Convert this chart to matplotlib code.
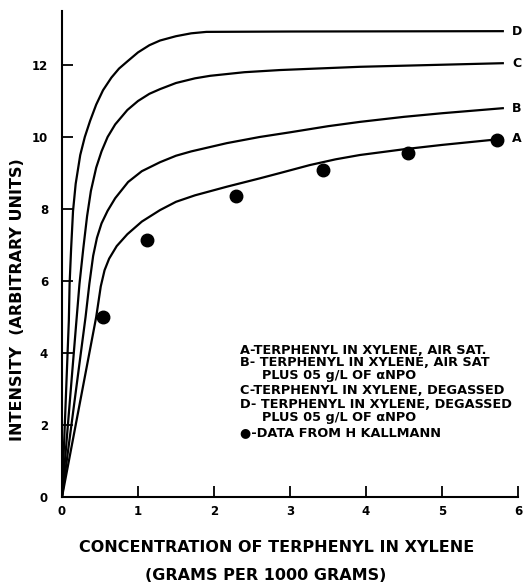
import numpy as np
import matplotlib.pyplot as plt

plt.rcParams['font.family'] = ['DejaVu Sans']
plt.rcParams['font.weight'] = 'bold'

# curves (x = g per 1000 g, y = intensity)
xa = [0, 0.45, 0.51, 0.56, 0.62, 0.72, 0.86, 1.05, 1.29, 1.5, 1.75, 2.17, 2.6, 2.87,
      3.26, 3.6, 3.92, 4.5, 5.0, 5.8]
ya = [0, 5.0, 5.85, 6.3, 6.62, 6.97, 7.3, 7.65, 7.97, 8.2, 8.38, 8.62, 8.85, 9.0,
      9.22, 9.38, 9.5, 9.66, 9.78, 9.95]

xb = [0, 0.31, 0.36, 0.41, 0.46, 0.52, 0.6, 0.7, 0.87, 1.05, 1.29, 1.5, 1.7, 2.17,
      2.6, 3.0, 3.5, 3.92, 4.5, 5.0, 5.8]
yb = [0, 5.0, 5.92, 6.7, 7.2, 7.6, 7.95, 8.3, 8.75, 9.05, 9.3, 9.48, 9.6, 9.83,
      10.0, 10.13, 10.3, 10.42, 10.56, 10.66, 10.8]

xc = [0, 0.19, 0.23, 0.28, 0.33, 0.38, 0.45, 0.52, 0.6, 0.7, 0.86, 1.0, 1.15, 1.29,
      1.5, 1.75, 1.95, 2.4, 2.87, 3.92, 5.8]
yc = [0, 4.9, 5.92, 6.9, 7.8, 8.5, 9.15, 9.6, 10.0, 10.35, 10.75, 11.0, 11.2, 11.33,
      11.5, 11.63, 11.7, 11.8, 11.86, 11.95, 12.05]

xd = [0, 0.09, 0.1, 0.12, 0.145, 0.18, 0.24, 0.3, 0.37, 0.45, 0.54, 0.65, 0.75, 0.86,
      1.0, 1.15, 1.29, 1.5, 1.7, 1.9, 3.0, 5.8]
yd = [0, 4.9, 5.92, 6.9, 7.94, 8.7, 9.5, 10.0, 10.45, 10.9, 11.3, 11.65, 11.9, 12.1,
      12.35, 12.55, 12.68, 12.8, 12.88, 12.92, 12.93, 12.94]

# Kallmann data points
xk = [0.54, 1.12, 2.29, 3.43, 4.55, 5.72]
yk = [5.0, 7.14, 8.36, 9.08, 9.55, 9.92]

curves = [('A', xa, ya), ('B', xb, yb), ('C', xc, yc), ('D', xd, yd)]

legend_lines = [
    ('A-TERPHENYL IN XYLENE, AIR SAT.', 0),
    ('B- TERPHENYL IN XYLENE, AIR SAT', 0),
    ('PLUS 05 g/L OF \u03b1NPO', 1),
    ('C-TERPHENYL IN XYLENE, DEGASSED', 0),
    ('D- TERPHENYL IN XYLENE, DEGASSED', 0),
    ('PLUS 05 g/L OF \u03b1NPO', 1),
    ('\u25cf-DATA FROM H KALLMANN', 0),
]
legend_y = [350, 363, 376, 391, 404, 418, 433]

fig = plt.figure(figsize=(5.31, 5.83), dpi=100)
ax = fig.add_axes([62 / 531, 1 - 497 / 583, 456 / 531, 486 / 583])

for name, x, y in curves:
    ax.plot(x, y, color='black', lw=1.6, solid_joinstyle='round')
    ax.text(x[-1] + 0.12, y[-1], name, ha='left', va='center', fontsize=9)

ax.plot(xk, yk, 'o', color='black', markersize=9)

ax.set_xlim(0, 6)
ax.set_ylim(0, 13.5)
ax.set_xticks(range(0, 7))
ax.set_yticks(range(0, 13, 2))
ax.spines['top'].set_visible(False)
ax.spines['right'].set_visible(False)
ax.spines['left'].set_linewidth(1.5)
ax.spines['bottom'].set_linewidth(1.5)
ax.tick_params(direction='in', length=8, width=1.3, labelsize=8.5)
ax.tick_params(axis='y', pad=10)
ax.tick_params(axis='x', pad=6)

fig.text(277 / 531, 1 - 548 / 583, 'CONCENTRATION OF TERPHENYL IN XYLENE',
         fontsize=11.5, ha='center', va='center')
fig.text(266 / 531, 1 - 575 / 583, '(GRAMS PER 1000 GRAMS)',
         fontsize=11.5, ha='center', va='center')
fig.text(18 / 531, 1 - 300 / 583, 'INTENSITY  (ARBITRARY UNITS)',
         fontsize=11.5, ha='center', va='center', rotation=90)

for (txt, indent), py in zip(legend_lines, legend_y):
    x0 = 240 + indent * 22
    ax.text((x0 - 62) / 456, (497 - py) / 486, txt, transform=ax.transAxes,
            fontsize=9.25, ha='left', va='center')

fig.savefig('out.png', dpi=100)
